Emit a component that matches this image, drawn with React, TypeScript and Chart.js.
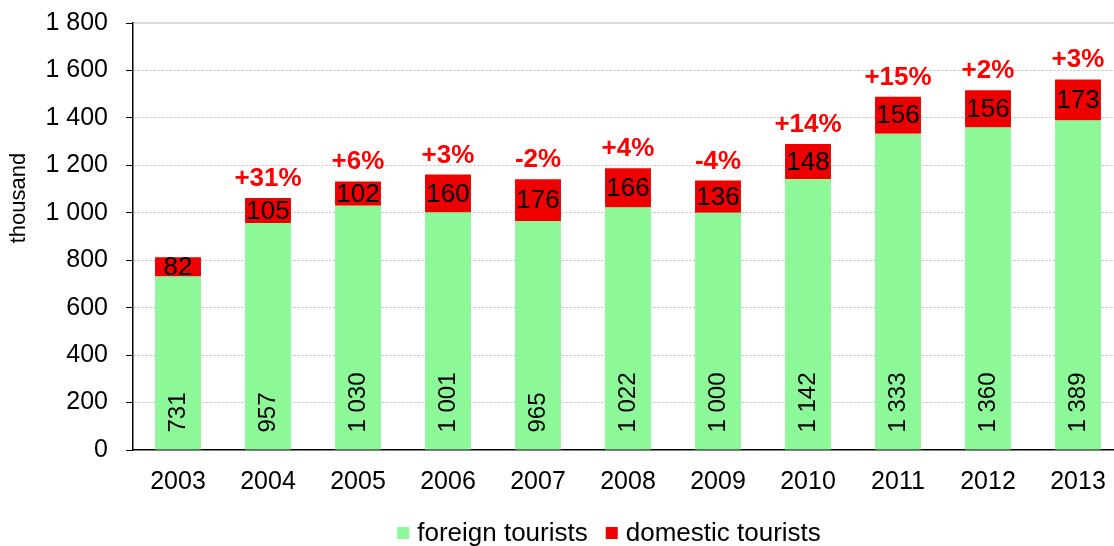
import React, { useEffect, useRef } from "react";
import { Chart, registerables } from "chart.js";

Chart.register(...registerables);

const years = ["2003", "2004", "2005", "2006", "2007", "2008", "2009", "2010", "2011", "2012", "2013"];
const foreignTourists = [731, 957, 1030, 1001, 965, 1022, 1000, 1142, 1333, 1360, 1389];
const domesticTourists = [82, 105, 102, 160, 176, 166, 136, 148, 156, 156, 173];
const growthLabels = ["", "+31%", "+6%", "+3%", "-2%", "+4%", "-4%", "+14%", "+15%", "+2%", "+3%"];
const seriesNames = ["foreign tourists", "domestic tourists"];
const axisTitle = "thousand";

const FONT = "'Liberation Sans', Arial, sans-serif";
const GREEN = "#8cf898";
const RED = "#ee0000";

const fmt = (v: number) => String(v).replace(/\B(?=(\d{3})+(?!\d))/g, " ");

const labelsPlugin = {
  id: "customLabels",
  afterDatasetsDraw(chart: any) {
    const ctx = chart.ctx;
    const m0 = chart.getDatasetMeta(0);
    const m1 = chart.getDatasetMeta(1);
    ctx.save();
    ctx.fillStyle = "#000";
    for (let i = 0; i < years.length; i++) {
      const b0 = m0.data[i];
      const b1 = m1.data[i];
      // foreign: rotated
      ctx.save();
      ctx.font = `24px ${FONT}`;
      ctx.translate(b0.x, b0.base - 17);
      ctx.rotate(-Math.PI / 2);
      ctx.textAlign = "left";
      ctx.textBaseline = "middle";
      ctx.fillStyle = "#000";
      ctx.fillText(fmt(foreignTourists[i]), 0, 0);
      ctx.restore();
      // domestic
      ctx.font = `26px ${FONT}`;
      ctx.textAlign = "center";
      ctx.textBaseline = "middle";
      ctx.fillStyle = "#000";
      ctx.fillText(fmt(domesticTourists[i]), b1.x, (b1.y + b1.base) / 2 + 1);
      // growth
      if (growthLabels[i]) {
        ctx.font = `bold 26px ${FONT}`;
        ctx.fillStyle = "#ff0000";
        ctx.textBaseline = "alphabetic";
        ctx.fillText(growthLabels[i], b1.x, b1.y - 12);
      }
    }
    ctx.restore();
  },
};

const framePlugin = {
  id: "frameAndLegend",
  afterDraw(chart: any) {
    const ctx = chart.ctx;
    const area = chart.chartArea;
    ctx.save();
    // top border line
    ctx.strokeStyle = "#d9d9d9";
    ctx.lineWidth = 2;
    ctx.beginPath();
    ctx.moveTo(area.left + 1, area.top);
    ctx.lineTo(area.right, area.top);
    ctx.stroke();
    // axis title
    ctx.save();
    ctx.font = `22px ${FONT}`;
    ctx.fillStyle = "#000";
    ctx.translate(19, 198);
    ctx.rotate(-Math.PI / 2);
    ctx.textAlign = "center";
    ctx.textBaseline = "middle";
    ctx.fillText(axisTitle, 0, 0);
    ctx.restore();
    // legend
    ctx.font = `26px ${FONT}`;
    const colors = [GREEN, RED];
    const box = 12;
    const gap = 8;
    const itemGap = 18;
    const widths = seriesNames.map((n) => ctx.measureText(n).width);
    const total = widths.reduce((a, w) => a + box + gap + w, 0) + itemGap * (seriesNames.length - 1);
    let x = 609 - total / 2;
    const baseline = 541;
    ctx.textAlign = "left";
    ctx.textBaseline = "alphabetic";
    seriesNames.forEach((n, i) => {
      ctx.fillStyle = colors[i];
      ctx.fillRect(x, baseline - 14, box, box);
      x += box + gap;
      ctx.fillStyle = "#000";
      ctx.fillText(n, x, baseline);
      x += widths[i] + itemGap;
    });
    ctx.restore();
  },
};

export default function App() {
  const ref = useRef<HTMLCanvasElement | null>(null);
  useEffect(() => {
    if (!ref.current) return;
    const chart = new Chart(ref.current, {
      type: "bar",
      data: {
        labels: years,
        datasets: [
          { label: seriesNames[0], data: foreignTourists, backgroundColor: GREEN, borderWidth: 0 },
          { label: seriesNames[1], data: domesticTourists, backgroundColor: RED, borderWidth: 0 },
        ],
      },
      options: {
        animation: false,
        responsive: false,
        devicePixelRatio: 1,
        layout: { padding: { left: 0, top: 23, right: 7, bottom: 46 } },
        datasets: { bar: { barPercentage: 0.51, categoryPercentage: 1 } },
        plugins: { legend: { display: false }, tooltip: { enabled: false }, title: { display: false } },
        scales: {
          x: {
            stacked: true,
            grid: { display: true, drawOnChartArea: false, drawTicks: false },
            border: { display: true, color: "#000", width: 1.5 },
            ticks: { color: "#000", font: { family: FONT, size: 25 }, padding: 17 },
            afterFit: (s: any) => {
              s.height = 50;
              s.paddingLeft = 0;
              s.paddingRight = 0;
            },
          },
          y: {
            stacked: true,
            min: 0,
            max: 1800,
            grid: {
              color: (c: any) => (c.tick && (c.tick.value === 1800 || c.tick.value === 0) ? "rgba(0,0,0,0)" : "#b8b8b8"),
              lineWidth: 1,
              tickLength: 7,
              tickColor: "#000",
              tickWidth: 1,
              tickBorderDash: [],
            },
            border: { display: true, color: "#000", width: 1.5, dash: [2, 2] },
            ticks: {
              stepSize: 200,
              color: "#000",
              padding: 18,
              font: { family: FONT, size: 25 },
              callback: (v: any) => fmt(Number(v)),
            },
            afterFit: (s: any) => {
              s.width = 133;
              s.paddingTop = 0;
              s.paddingBottom = 0;
            },
          },
        },
      },
      plugins: [labelsPlugin, framePlugin],
    });
    return () => chart.destroy();
  }, []);
  return (
    <div style={{ position: "fixed", left: 0, top: 0, width: 1114, height: 546, overflow: "hidden", background: "#fff" }}>
      <canvas ref={ref} width={1130} height={546} style={{ width: 1130, height: 546, display: "block" }} />
    </div>
  );
}
